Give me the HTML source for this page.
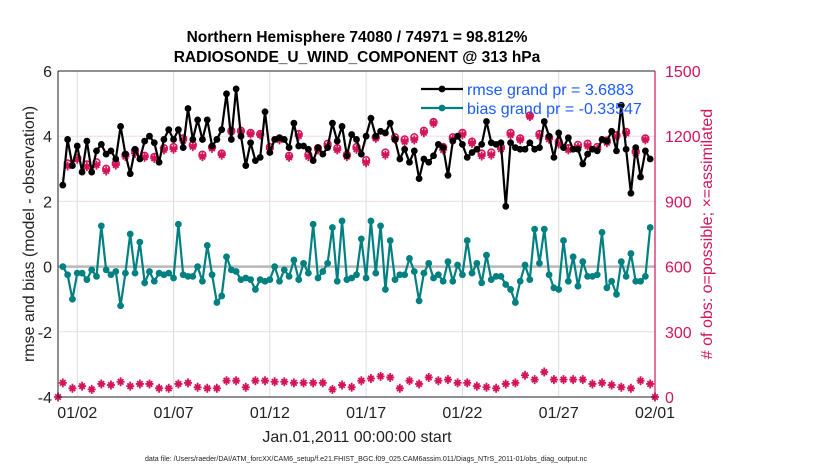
<!DOCTYPE html>
<html><head><meta charset="utf-8"><style>
body{margin:0;background:#fff;}
svg text{font-family:"Liberation Sans",sans-serif;}
</style></head><body>
<svg id="chart" width="830" height="470" viewBox="0 0 830 470" xmlns="http://www.w3.org/2000/svg" style="position:absolute;left:0;top:0">
<rect width="830" height="470" fill="#fff"/>
<g id="grid"></g>
<g id="marks"></g>
<g id="axes"></g>
</svg>
<script>
const rmse=[2.5,3.9,3.1,3.7,2.9,3.85,2.9,3.55,3.75,3.45,3.55,3.3,4.3,3.45,2.85,3.6,3.3,3.85,4.0,3.8,3.2,3.9,4.2,3.9,4.2,3.65,4.85,3.9,4.5,3.9,4.5,3.7,3.9,4.2,5.3,3.9,5.45,4.0,3.1,3.8,3.25,3.35,4.75,
3.5,3.9,3.95,3.9,3.65,4.4,3.7,3.7,3.6,3.25,3.65,3.45,3.65,4.4,3.85,4.3,3.4,4.05,3.9,3.45,4.0,4.55,4.0,4.15,4.1,4.4,3.9,3.3,3.6,3.2,3.55,2.7,3.3,3.2,3.4,3.75,3.65,2.8,3.85,4.0,3.75,3.35,
3.5,3.6,3.75,4.45,3.8,3.75,3.8,1.85,3.8,3.65,3.6,3.6,3.8,3.6,3.65,4.45,4.0,3.35,4.1,3.65,3.95,3.6,3.6,3.15,3.45,3.6,3.55,3.9,3.85,4.15,3.55,4.95,3.6,2.25,3.65,2.75,3.55,3.3];
const bias=[0,-0.25,-1.0,-0.2,-0.2,-0.4,-0.1,-0.3,1.25,-0.1,-0.25,-0.15,-1.2,-0.2,1.0,-0.2,0.75,-0.5,-0.15,-0.45,-0.2,-0.25,-0.2,-0.35,1.3,-0.25,-0.3,-0.3,0,-0.45,0.65,-0.25,-1.1,-0.9,0.3,-0.1,-0.15,-0.4,-0.35,-0.4,-0.7,-0.4,-0.45,
-0.4,0,-0.45,-0.1,-0.3,0.2,-0.4,0.1,-0.2,1.3,-0.35,-0.15,0.1,1.2,-0.45,1.4,-0.4,-0.35,-0.25,0.85,-0.35,1.4,-0.2,1.25,-0.7,0.8,-0.4,-0.25,-0.25,0.25,-0.15,-1.05,-0.2,0.1,-0.35,-0.25,-0.45,0.15,-0.45,0.05,-0.25,0.8,
-0.2,0.1,-0.5,0.35,-0.4,-0.3,-0.3,-0.55,-0.7,-1.1,-0.45,0.05,-0.4,1.15,0.1,1.15,-0.25,-0.65,-0.7,0.8,-0.45,0.3,-0.6,0.15,-0.3,-0.3,-0.25,1.05,-0.65,-0.45,-0.85,0.15,-0.3,0.4,-0.45,-0.45,-0.3,1.2];
const nAssim=[1063,1094,1060,1067,1040,1067,1106,1121,1103,1098,1137,1140,1180,1152,1106,1144,1113,1221,1221,1210,1206,
1140,1183,1103,1201,1106,1137,1155,1137,1106,1140,1078,1190,1113,1186,1175,1183,1216,1259,1137,1186,1206,1167,
1109,1113,1140,1206,1183,1290,1201,1186,1164,1137,1149,1155,1140,1170,1198,1213,1121,1183];
const nPoss=[1075,1100,1070,1080,1050,1075,1115,1135,1110,1105,1145,1150,1190,1160,1115,1150,1120,1225,1225,1215,1210,
1150,1190,1110,1210,1115,1145,1165,1145,1115,1150,1090,1195,1125,1195,1185,1195,1225,1265,1150,1195,1215,1175,
1120,1125,1150,1215,1190,1295,1210,1195,1175,1145,1160,1165,1150,1180,1205,1220,1130,1190];
const nLow=[65,40,50,35,60,55,70,50,60,60,40,40,60,65,45,40,40,75,75,45,75,75,
70,70,65,65,65,65,35,55,45,75,85,95,90,40,75,60,90,75,80,65,65,
50,45,40,60,65,100,80,115,80,80,80,80,60,65,55,45,40,75,60];
const tickLabels=["01/02","01/07","01/12","01/17","01/22","01/27","02/01"];
const tickDays=[1,6,11,16,21,26,31];
const yTicks=[-4,-2,0,2,4,6];
const rTicks=[0,300,600,900,1200,1500];

const X0=58,X1=655,Y0=397,Y1=71;
const xs=d=>X0+(d/31)*(X1-X0);
const yl=v=>Y0-(v+4)/10*(Y0-Y1);
const yr=v=>Y0-v/1500*(Y0-Y1);
const NS="http://www.w3.org/2000/svg";
function mk(tag,attrs,parent){const e=document.createElementNS(NS,tag);for(const k in attrs)e.setAttribute(k,attrs[k]);parent.appendChild(e);return e;}
const grid=document.getElementById('grid'),marks=document.getElementById('marks'),axes=document.getElementById('axes');

yTicks.forEach(v=>{const l=mk('line',{x1:X0,x2:X1,y1:yl(v),y2:yl(v),stroke:'#f2dbe4','stroke-width':1},grid);

});
tickDays.forEach(d=>{const l=mk('line',{x1:xs(d),x2:xs(d),y1:Y1,y2:Y0,stroke:'#dddddd','stroke-width':1},grid);

});
const zl=mk('line',{x1:X0,x2:X1,y1:yl(0),y2:yl(0),stroke:'#b8b8b8','stroke-width':2.5},grid);



function series(vals,startDay,step,color,name){
 const pts=vals.map((v,i)=>xs(startDay+i*step).toFixed(1)+','+yl(v).toFixed(1)).join(' ');
 const pl=mk('polyline',{points:pts,fill:'none',stroke:color,'stroke-width':2.2},marks);
 
 
 vals.forEach((v,i)=>{const c=mk('circle',{cx:xs(startDay+i*step),cy:yl(v),r:3.4,fill:color},marks);
 
 });
}
const PINK='#d4145a';
function star(x,y,name){const g=mk('g',{},marks);
 
 
 mk('path',{d:`M${x-4},${y}H${x+4}M${x},${y-4.5}V${y+4.5}M${x-2.8},${y-2.8}L${x+2.8},${y+2.8}M${x-2.8},${y+2.8}L${x+2.8},${y-2.8}`,stroke:PINK,'stroke-width':1.8},g);
 mk('circle',{cx:x,cy:y,r:2.3,fill:PINK},g);}
nPoss.forEach((v,i)=>{const c=mk('circle',{cx:xs(0.5+i*0.5),cy:yr(v),r:3.4,fill:'none',stroke:PINK,'stroke-width':1.5},marks);
 
 });
nAssim.forEach((v,i)=>star(xs(0.5+i*0.5),yr(v),'assimilated-obs-marker'));
nLow.forEach((v,i)=>star(xs(0.25+i*0.5),yr(v),'low-count-marker'));
[0,31].forEach(d=>star(xs(d),yr(0),'zero-count-marker'));
series(rmse,0.25,0.25,'#000000','rmse');
series(bias,0.25,0.25,'#008080','bias');

const fr=mk('path',{d:`M${X0},${Y1}V${Y0}H${X1}M${X0},${Y1}H${X1}`,stroke:'#222','stroke-width':1,fill:'none'},axes);


const ra=mk('line',{x1:X1,x2:X1,y1:Y1,y2:Y0,stroke:PINK,'stroke-width':1.2},axes);


yTicks.forEach(v=>{const t=mk('text',{x:X0-6,y:yl(v)+6,'text-anchor':'end','font-size':16,fill:'#222'},axes);t.textContent=v;

});
rTicks.forEach(v=>{const t=mk('text',{x:X1+10,y:yr(v)+6,'font-size':16,fill:PINK},axes);t.textContent=v;

});
tickDays.forEach((d,i)=>{const t=mk('text',{x:xs(d),y:418,'text-anchor':'middle','font-size':16,fill:'#222'},axes);t.textContent=tickLabels[i];

});
</script>
<svg style="position:absolute;left:0;top:0" width="830" height="470">
<text x="357" y="42" text-anchor="middle" font-size="15.5" font-weight="bold" fill="#000" font-family="Liberation Sans,sans-serif">Northern Hemisphere 74080 / 74971 = 98.812%</text>
<text x="357" y="62" text-anchor="middle" font-size="15.5" font-weight="bold" fill="#000" font-family="Liberation Sans,sans-serif">RADIOSONDE_U_WIND_COMPONENT @ 313 hPa</text>
<text transform="translate(34,234) rotate(-90)" text-anchor="middle" font-size="16" fill="#222" font-family="Liberation Sans,sans-serif">rmse and bias (model - observation)</text>
<text transform="translate(712,234) rotate(-90)" text-anchor="middle" font-size="16" fill="#d4145a" font-family="Liberation Sans,sans-serif"># of obs: o=possible; ×=assimilated</text>
<text x="357" y="442" text-anchor="middle" font-size="16" fill="#222" font-family="Liberation Sans,sans-serif">Jan.01,2011 00:00:00 start</text>
<text x="145" y="461" font-size="7.5" fill="#222" font-family="Liberation Sans,sans-serif" textLength="442" lengthAdjust="spacingAndGlyphs">data file: /Users/raeder/DAI/ATM_forcXX/CAM6_setup/f.e21.FHIST_BGC.f09_025.CAM6assim.011/Diags_NTrS_2011-01/obs_diag_output.nc</text>
<g>
<line x1="421" x2="463" y1="89" y2="89" stroke="#000" stroke-width="2.2"/><circle cx="442" cy="89" r="3.4" fill="#000"/>
<text x="467" y="95" font-size="16" fill="#1a5cff" font-family="Liberation Sans,sans-serif">rmse grand pr = 3.6883</text>
<line x1="421" x2="463" y1="108" y2="108" stroke="#008080" stroke-width="2.2"/><circle cx="442" cy="108" r="3.4" fill="#008080"/>
<text x="467" y="114" font-size="16" fill="#1a5cff" font-family="Liberation Sans,sans-serif">bias grand pr = -0.33547</text>
</g>
</svg>
</body></html>
